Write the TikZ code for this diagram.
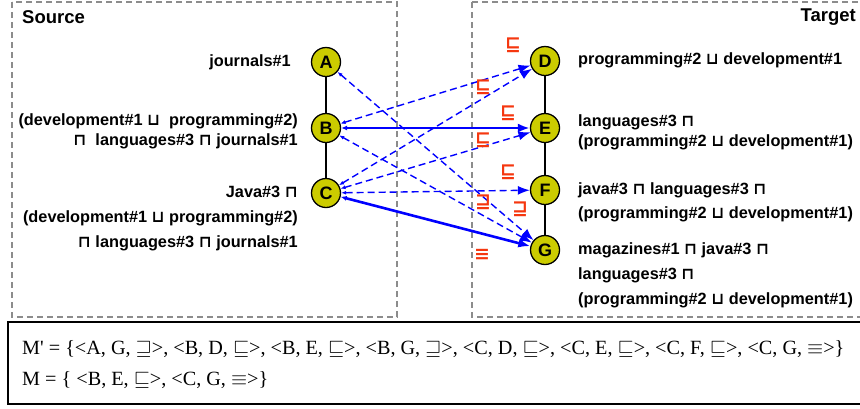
\documentclass[tikz,border=0pt]{standalone}
\usepackage{amsmath}
\usepackage{amssymb}
\usepackage{fontspec}
\setmainfont{Liberation Sans}
\newfontfamily\timesfont{Liberation Serif}
\newfontfamily\symfont{DejaVu Sans}
\newcommand{\orop}{{\symfont\char"2294}}
\newcommand{\andop}{{\symfont\char"2293}}
\usetikzlibrary{arrows.meta}
\definecolor{nodeyellow}{RGB}{204,204,0}
\definecolor{relred}{RGB}{245,55,15}
\definecolor{boxgray}{RGB}{140,140,140}

\begin{document}
\begin{tikzpicture}[x=1pt, y=-1pt,
    concept/.style={circle, draw=black, line width=1.3pt, fill=nodeyellow,
        minimum size=29pt, inner sep=0pt, font=\fontsize{18}{20}\selectfont\bfseries},
    desc/.style={font=\fontsize{16.3}{19}\selectfont\bfseries, inner sep=0pt},
    head/.style={font=\fontsize{18.5}{20}\selectfont\bfseries, inner sep=0pt},
    rel/.style={text=relred, font=\symfont\bfseries\fontsize{19}{19}\selectfont, inner sep=0pt},
    cand/.style={blue, line width=1.4pt, dash pattern=on 7pt off 4pt,
        {Latex[length=5pt,width=4pt]}-{Latex[length=12pt,width=9pt]}},
    final/.style={blue, line width=2.6pt,
        {Latex[length=6pt,width=5pt]}-{Latex[length=12pt,width=9pt]}},
    area/.style={draw=boxgray, line width=1.2pt, dash pattern=on 6pt off 4pt}]
                \useasboundingbox (0, 0) rectangle (860, 408);

                % source and target areas
                \draw[area] (12, 2) rectangle (397, 317);
                \draw[area] (472, 2) rectangle (875, 317);
                \node[head, anchor=west] (src) at (22, 17) {Source};
                \node[head, anchor=east] (tgt) at (856, 17) {Target};

                % source concepts
                \node[concept] (A) at (326, 62) {A};
                \node[concept] (B) at (326, 128) {B};
                \node[concept] (C) at (326, 193) {C};
                \node[desc, anchor=east] (la) at (291, 62) {journals\#1};
                \node[desc, anchor=east, align=right] (lb) at (298, 131)
                    {(development\#1 \orop\ \ programming\#2)\\[1pt]
                     \andop\ \ languages\#3 \andop\ journals\#1};
                \node[desc, anchor=east, align=right] (lc) at (298, 219)
                    {Java\#3 \andop\\[6pt]
                     (development\#1 \orop\ programming\#2)\\[6pt]
                     \andop\ languages\#3 \andop\ journals\#1};

                % target concepts
                \node[concept] (D) at (545, 61) {D};
                \node[concept] (E) at (545, 128) {E};
                \node[concept] (F) at (545, 190) {F};
                \node[concept] (G) at (545, 250) {G};
                \node[desc, anchor=west] (ld) at (578, 60) {programming\#2 \orop\ development\#1};
                \node[desc, anchor=west, align=left] (le) at (578, 132)
                    {languages\#3 \andop\\[1pt]
                     (programming\#2 \orop\ development\#1)};
                \node[desc, anchor=west, align=left] (lf) at (578, 202)
                    {java\#3 \andop\ languages\#3 \andop\\[5pt]
                     (programming\#2 \orop\ development\#1)};
                \node[desc, anchor=west, align=left] (lg) at (578, 275)
                    {magazines\#1 \andop\ java\#3 \andop\\[6pt]
                     languages\#3 \andop\\[6pt]
                     (programming\#2 \orop\ development\#1)};

                % hierarchy
                \draw[line width=1.3pt] (A) -- (B) -- (C);
                \draw[line width=1.3pt] (D) -- (E) -- (F) -- (G);

                % correspondences
                \draw[cand] (A) -- (G);
                \draw[cand] (B) -- (D);
                \draw[final] (B) -- (E);
                \draw[cand] (B) -- (G);
                \draw[cand] (C) -- (D);
                \draw[cand] (C) -- (E);
                \draw[cand] (C) -- (F);
                \draw[final] (C) -- (G);

                % relation labels
                \node[rel] (r1) at (513, 45) {⊑};
                \node[rel] (r2) at (483, 87) {⊑};
                \node[rel] (r3) at (508, 113) {⊑};
                \node[rel] (r4) at (483, 140) {⊑};
                \node[rel] (r5) at (508, 172) {⊑};
                \node[rel] (r6) at (483, 202) {⊒};
                \node[rel] (r7) at (520, 209) {⊒};
                \node[rel] (r8) at (482, 255) {≡};

                % alignment sets
                \draw[line width=1.5pt] (8, 322) rectangle (875, 404);
                \node[anchor=west, inner sep=0pt, font=\timesfont\fontsize{20.2}{22}\selectfont] (m1) at (22, 349)
                    {M' = \{<A, G, $\sqsupseteq$>, <B, D, $\sqsubseteq$>, <B, E, $\sqsubseteq$>, <B, G, $\sqsupseteq$>, <C, D, $\sqsubseteq$>, <C, E, $\sqsubseteq$>, <C, F, $\sqsubseteq$>, <C, G, $\equiv$>\}};
                \node[anchor=west, inner sep=0pt, font=\timesfont\fontsize{20.2}{22}\selectfont] (m2) at (22, 380)
                    {M = \{ <B, E, $\sqsubseteq$>, <C, G, $\equiv$>\}};
            \end{tikzpicture}
\end{document}
